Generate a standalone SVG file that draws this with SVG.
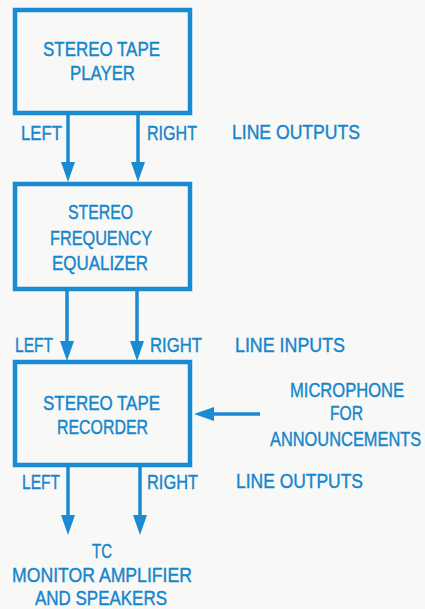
<svg xmlns="http://www.w3.org/2000/svg" width="425" height="609" viewBox="0 0 425 609">
<style>
.bg{fill:#f8f8f7}
.box{fill:none;stroke:#1a8ad2;stroke-width:4.5}
.ln{stroke:#1a8ad2;stroke-width:3.5;fill:none}
text{font-family:"Liberation Sans",Arial,sans-serif;font-size:20.5px;fill:#1585cc;stroke:#1585cc;stroke-width:0.4}
</style>
<defs>
<marker id="ah" viewBox="0 0 20 14" refX="1" refY="7" markerWidth="20" markerHeight="14" markerUnits="userSpaceOnUse" orient="auto">
<path d="M0,0 L20,7 L0,14 z" fill="#1a8ad2"/>
</marker>
</defs>
<rect class="bg" x="0" y="0" width="425" height="609"/>
<g id="player">
<rect class="box" x="15" y="10" width="175" height="103"/>
<text x="43" y="56" textLength="117" lengthAdjust="spacingAndGlyphs">STEREO TAPE</text>
<text x="70" y="80" textLength="65" lengthAdjust="spacingAndGlyphs">PLAYER</text>
</g>
<g id="equalizer">
<rect class="box" x="15" y="184" width="175" height="105"/>
<text x="68" y="219" textLength="65" lengthAdjust="spacingAndGlyphs">STEREO</text>
<text x="50" y="245" textLength="102" lengthAdjust="spacingAndGlyphs">FREQUENCY</text>
<text x="52" y="270" textLength="96" lengthAdjust="spacingAndGlyphs">EQUALIZER</text>
</g>
<g id="recorder">
<rect class="box" x="15" y="362" width="175" height="103"/>
<text x="43" y="410" textLength="117" lengthAdjust="spacingAndGlyphs">STEREO TAPE</text>
<text x="57" y="434" textLength="91" lengthAdjust="spacingAndGlyphs">RECORDER</text>
</g>
<g id="microphone">
<text transform="translate(290,397) scale(0.8,1)" x="0" y="0" textLength="142.5" lengthAdjust="spacingAndGlyphs">MICROPHONE</text>
<text x="330" y="420" textLength="33" lengthAdjust="spacingAndGlyphs">FOR</text>
<text transform="translate(270,446) scale(0.8,1)" x="0" y="0" textLength="189" lengthAdjust="spacingAndGlyphs">ANNOUNCEMENTS</text>
</g>
<g id="monitor">
<text x="92" y="558" textLength="20" lengthAdjust="spacingAndGlyphs">TC</text>
<text x="12" y="582" textLength="180" lengthAdjust="spacingAndGlyphs">MONITOR AMPLIFIER</text>
<text x="35" y="605" textLength="132" lengthAdjust="spacingAndGlyphs">AND SPEAKERS</text>
</g>
<g id="connectors">
<line class="ln" x1="68" y1="113" x2="68" y2="163" marker-end="url(#ah)"/>
<line class="ln" x1="138" y1="113" x2="138" y2="163" marker-end="url(#ah)"/>
<line class="ln" x1="67" y1="289" x2="67" y2="342" marker-end="url(#ah)"/>
<line class="ln" x1="137" y1="289" x2="137" y2="342" marker-end="url(#ah)"/>
<line class="ln" x1="68" y1="465" x2="68" y2="516" marker-end="url(#ah)"/>
<line class="ln" x1="140" y1="465" x2="140" y2="516" marker-end="url(#ah)"/>
<line class="ln" x1="260" y1="414" x2="213" y2="414" marker-end="url(#ah)"/>
</g>
<g id="labels">
<text x="21" y="140" textLength="41" lengthAdjust="spacingAndGlyphs">LEFT</text>
<text x="147" y="140" textLength="50" lengthAdjust="spacingAndGlyphs">RIGHT</text>
<text x="232" y="139" textLength="128" lengthAdjust="spacingAndGlyphs">LINE OUTPUTS</text>
<text x="15" y="352" textLength="38" lengthAdjust="spacingAndGlyphs">LEFT</text>
<text x="150" y="352" textLength="52" lengthAdjust="spacingAndGlyphs">RIGHT</text>
<text x="235" y="352" textLength="110" lengthAdjust="spacingAndGlyphs">LINE INPUTS</text>
<text x="22" y="489" textLength="38" lengthAdjust="spacingAndGlyphs">LEFT</text>
<text x="147" y="489" textLength="51" lengthAdjust="spacingAndGlyphs">RIGHT</text>
<text x="236" y="488" textLength="127" lengthAdjust="spacingAndGlyphs">LINE OUTPUTS</text>
</g>
</svg>
